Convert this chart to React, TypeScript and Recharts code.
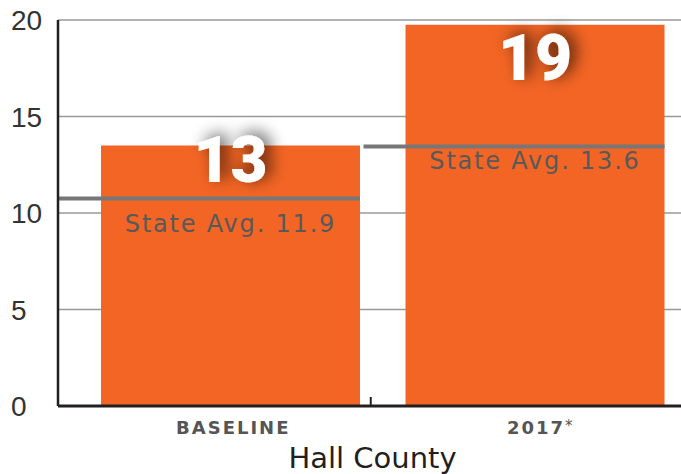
import React from 'react';
import { BarChart, Bar, XAxis, YAxis, CartesianGrid, LabelList } from 'recharts';

const categories = ['BASELINE', '2017'];
const categorySuffix = ['', '*'];
const barValues = [13.5, 19.75];
const barLabels = ['13', '19'];
const stateAvgValues = [10.75, 13.45];
const stateAvgLabels = ['State Avg. 11.9', 'State Avg. 13.6'];
const yTicks = [0, 5, 10, 15, 20];
const xTitle = 'Hall County';

const data = categories.map((c, i) => ({
  category: c,
  suffix: categorySuffix[i],
  value: barValues[i],
  label: barLabels[i],
  avg: stateAvgValues[i],
  avgLabel: stateAvgLabels[i],
}));

const ORANGE = '#f26524';
const AXIS = '#231f20';
const valueLabelDy = [37, 55];
const avgLabelDy = [33, 23];

const YTick = (props: any) => {
  const { x, y, payload } = props;
  return (
    <text x={x - 47} y={y + 10} textAnchor="start" fill="#333" fontSize={28} fontFamily="'Liberation Sans', Arial, sans-serif">
      {payload.value}
    </text>
  );
};

const XTick = (props: any) => {
  const { x, y, payload, index } = props;
  const suffix = categorySuffix[index] || '';
  return (
    <g>
      {index === 1 && <line x1={x - 164} x2={x - 164} y1={y - 9} y2={y} stroke={AXIS} strokeWidth={2} />}
      <text x={x + (suffix ? 6 : 3)} y={y + 28} textAnchor="middle" fill="#555" fontSize={18} fontWeight={700} letterSpacing={2} fontFamily="'DejaVu Sans', sans-serif">
        {payload.value}
        {suffix && <tspan fontWeight={400} fontSize={15} dy={-3}>{suffix}</tspan>}
      </text>
    </g>
  );
};

const ValueLabel = (props: any) => {
  const { x, y, width, value, index } = props;
  const id = `vshadow${index}`;
  return (
    <g>
      <defs>
        <filter id={id} x="-50%" y="-50%" width="200%" height="200%">
          <feGaussianBlur in="SourceAlpha" stdDeviation={8} />
          <feOffset dx={6} dy={-3} result="blur" />
          <feComponentTransfer>
            <feFuncA type="linear" slope={0.7} />
          </feComponentTransfer>
          <feMerge>
            <feMergeNode />
            <feMergeNode in="SourceGraphic" />
          </feMerge>
        </filter>
      </defs>
      <text x={x + width / 2} y={y + valueLabelDy[index]} textAnchor="middle" fill="#fff" fontSize={64} fontWeight={900} fontFamily="Roboto, 'DejaVu Sans', sans-serif" filter={`url(#${id})`}>
        {value}
      </text>
    </g>
  );
};

const AvgShape = (props: any) => {
  const { x, y, width, index, payload } = props;
  return (
    <g>
      <line x1={x - 42} x2={x + width} y1={y} y2={y} stroke="#777" strokeWidth={4} />
      <text x={x + width / 2} y={y + avgLabelDy[index]} textAnchor="middle" fill="#58595b" fontSize={24} letterSpacing={1.8} fontFamily="'DejaVu Sans', sans-serif">
        {payload.avgLabel}
      </text>
    </g>
  );
};

const TitleLabel = (props: any) => {
  const { viewBox } = props;
  return (
    <text x={viewBox.x + viewBox.width / 2} y={viewBox.y + 62} textAnchor="middle" fill={AXIS} fontSize={29} fontFamily="'DejaVu Sans', sans-serif">
      {xTitle}
    </text>
  );
};

export default function App() {
  return (
    <div style={{ position: 'absolute', left: 0, top: 0, width: 681, height: 474, overflow: 'hidden', background: '#fff' }}>
      <BarChart width={687} height={474} data={data} margin={{ top: 20, right: 0, bottom: 0, left: 0 }}>
        <CartesianGrid vertical={false} stroke="#999" strokeWidth={1.5} />
        <XAxis
          dataKey="category"
          height={68}
          padding={{ left: 20, right: 0 }}
          tickSize={0}
          tickMargin={0}
          tickLine={false}
          axisLine={{ stroke: AXIS, strokeWidth: 3 }}
          tick={<XTick />}
          interval={0}
          label={<TitleLabel />}
        />
        <XAxis xAxisId="avg" dataKey="category" hide padding={{ left: 20, right: 0 }} />
        <YAxis
          width={58}
          domain={[0, 20]}
          ticks={yTicks}
          tickSize={0}
          tickMargin={0}
          tickLine={false}
          axisLine={{ stroke: AXIS, strokeWidth: 2.5 }}
          tick={<YTick />}
          interval={0}
        />
        <Bar dataKey="value" fill={ORANGE} barSize={259} isAnimationActive={false}>
          <LabelList dataKey="label" content={<ValueLabel />} />
        </Bar>
        <Bar dataKey="avg" xAxisId="avg" barSize={259} shape={<AvgShape />} isAnimationActive={false} />
      </BarChart>
    </div>
  );
}
